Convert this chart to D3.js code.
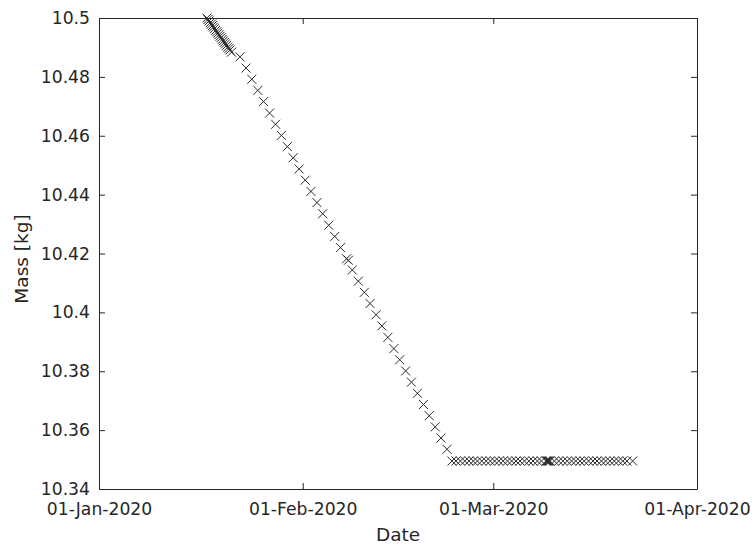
<!DOCTYPE html>
<html>
<head>
<meta charset="utf-8">
<script src="https://cdn.jsdelivr.net/npm/d3@7"></script>
<style>
  body { margin: 0; background: #fff; }
  svg { display: block; }
  text { font-family: "DejaVu Sans", sans-serif; fill: #262626; }
</style>
</head>
<body>
<svg id="chart" width="753" height="546"></svg>
<script>
// Early readings: logged every few hours while the mass starts to drop
const startTimes = [
  "2020-01-17T10:00", "2020-01-17T14:00", "2020-01-17T18:00", "2020-01-17T22:00",
  "2020-01-18T02:00", "2020-01-18T06:00", "2020-01-18T10:00", "2020-01-18T14:00",
  "2020-01-18T18:00", "2020-01-18T22:00", "2020-01-19T02:00", "2020-01-19T06:00",
  "2020-01-19T10:00", "2020-01-19T14:00", "2020-01-19T18:00", "2020-01-19T22:00",
  "2020-01-20T02:00", "2020-01-20T06:00", "2020-01-20T10:00", "2020-01-20T14:00",
  "2020-01-20T18:00", "2020-01-20T22:00", "2020-01-21T04:00"
];
const startMass = [
  10.5000, 10.4995, 10.4990, 10.4984, 10.4979, 10.4974, 10.4969, 10.4964,
  10.4958, 10.4953, 10.4948, 10.4943, 10.4938, 10.4933, 10.4927, 10.4922,
  10.4917, 10.4912, 10.4907, 10.4901, 10.4896, 10.4891, 10.4884
];

// Steady decline
const declineTimes = [
  "2020-01-22T11:00", "2020-01-23T09:00", "2020-01-24T06:00", "2020-01-25T04:00",
  "2020-01-26T01:00", "2020-01-26T23:00", "2020-01-27T21:00", "2020-01-28T18:00",
  "2020-01-29T16:00", "2020-01-30T13:00", "2020-01-31T11:00", "2020-02-01T09:00",
  "2020-02-02T06:00", "2020-02-03T04:00", "2020-02-04T01:00", "2020-02-04T23:00",
  "2020-02-05T21:00", "2020-02-06T18:00", "2020-02-07T16:00", "2020-02-07T23:00",
  "2020-02-08T13:00", "2020-02-09T11:00", "2020-02-10T09:00", "2020-02-11T06:00",
  "2020-02-12T04:00", "2020-02-13T01:00", "2020-02-13T23:00", "2020-02-14T21:00",
  "2020-02-15T18:00", "2020-02-16T16:00", "2020-02-17T13:00", "2020-02-18T11:00",
  "2020-02-19T09:00", "2020-02-20T06:00", "2020-02-21T04:00", "2020-02-22T01:00",
  "2020-02-22T23:00"
];
const declineMass = [
  10.4868, 10.4830, 10.4792, 10.4754, 10.4716, 10.4677, 10.4639, 10.4601,
  10.4563, 10.4525, 10.4487, 10.4449, 10.4411, 10.4373, 10.4335, 10.4296,
  10.4258, 10.4220, 10.4182, 10.4177, 10.4144, 10.4106, 10.4068, 10.4030,
  10.3992, 10.3954, 10.3915, 10.3877, 10.3839, 10.3801, 10.3763, 10.3725,
  10.3687, 10.3649, 10.3611, 10.3573, 10.3535
];

// Plateau once the mass has settled
const plateauTimes = [
  "2020-02-23T17:00", "2020-02-24T08:00", "2020-02-25T00:00", "2020-02-25T16:00",
  "2020-02-26T07:00", "2020-02-26T23:00", "2020-02-27T14:00", "2020-02-28T06:00",
  "2020-02-28T22:00", "2020-02-29T13:00", "2020-03-01T05:00", "2020-03-01T20:00",
  "2020-03-02T12:00", "2020-03-03T04:00", "2020-03-03T19:00", "2020-03-04T11:00",
  "2020-03-05T02:00", "2020-03-05T18:00", "2020-03-06T10:00", "2020-03-07T01:00",
  "2020-03-07T17:00", "2020-03-08T08:00", "2020-03-09T00:00", "2020-03-09T04:00",
  "2020-03-09T08:00", "2020-03-09T12:00", "2020-03-09T16:00", "2020-03-10T07:00",
  "2020-03-10T23:00", "2020-03-11T14:00", "2020-03-12T06:00", "2020-03-12T22:00",
  "2020-03-13T13:00", "2020-03-14T05:00", "2020-03-14T20:00", "2020-03-15T12:00",
  "2020-03-16T04:00", "2020-03-16T19:00", "2020-03-17T11:00", "2020-03-18T02:00",
  "2020-03-18T18:00", "2020-03-19T10:00", "2020-03-20T01:00", "2020-03-20T17:00",
  "2020-03-21T08:00", "2020-03-22T05:00"
];
const plateauMass = [
  10.3495, 10.3495, 10.3495, 10.3495, 10.3495, 10.3495, 10.3495, 10.3495,
  10.3495, 10.3495, 10.3495, 10.3495, 10.3495, 10.3495, 10.3495, 10.3495,
  10.3495, 10.3495, 10.3495, 10.3495, 10.3495, 10.3495, 10.3495, 10.3495,
  10.3495, 10.3495, 10.3495, 10.3495, 10.3495, 10.3495, 10.3495, 10.3495,
  10.3495, 10.3495, 10.3495, 10.3495, 10.3495, 10.3495, 10.3495, 10.3495,
  10.3495, 10.3495, 10.3495, 10.3495, 10.3495, 10.3495
];

// Axis ticks
const xTickDates = ["2020-01-01", "2020-02-01", "2020-03-01", "2020-04-01"];
const xTickLabels = ["01-Jan-2020", "01-Feb-2020", "01-Mar-2020", "01-Apr-2020"];
const yTickValues = [10.34, 10.36, 10.38, 10.40, 10.42, 10.44, 10.46, 10.48, 10.50];
const yTickLabels = ["10.34", "10.36", "10.38", "10.4", "10.42", "10.44", "10.46", "10.48", "10.5"];

const parseTime = d3.utcParse("%Y-%m-%dT%H:%M");
const parseDay = d3.utcParse("%Y-%m-%d");

const points = [];
[[startTimes, startMass], [declineTimes, declineMass], [plateauTimes, plateauMass]]
  .forEach(([times, masses]) => times.forEach((t, i) => points.push({ t: parseTime(t), m: masses[i] })));

const box = { left: 99, right: 697, top: 18, bottom: 489 };
const svg = d3.select("#chart");

const xTicks = xTickDates.map(parseDay);
const x = d3.scaleUtc().domain([xTicks[0], xTicks[xTicks.length - 1]]).range([box.left, box.right]);
const y = d3.scaleLinear().domain([10.34, 10.5]).range([box.bottom, box.top]);

const axisColor = "#262626";
const tickLen = 6;
const tickFont = 17.2;

function styleAxis(g) {
  g.selectAll("path.domain").attr("stroke", axisColor).attr("stroke-width", 1);
  g.selectAll(".tick line").attr("stroke", axisColor).attr("stroke-width", 1);
  g.selectAll(".tick text")
    .attr("font-family", "DejaVu Sans, sans-serif")
    .attr("font-size", tickFont)
    .attr("fill", axisColor);
}

// Bottom axis with date labels
svg.append("g")
  .attr("transform", `translate(0,${box.bottom})`)
  .call(d3.axisBottom(x).tickValues(xTicks)
    .tickFormat((d, i) => xTickLabels[i])
    .tickSizeInner(-tickLen).tickSizeOuter(0).tickPadding(14))
  .call(styleAxis);

// Top axis (ticks only)
svg.append("g")
  .attr("transform", `translate(0,${box.top})`)
  .call(d3.axisTop(x).tickValues(xTicks).tickFormat("")
    .tickSizeInner(-tickLen).tickSizeOuter(0))
  .call(styleAxis);

// Left axis with mass labels
svg.append("g")
  .attr("transform", `translate(${box.left},0)`)
  .call(d3.axisLeft(y).tickValues(yTickValues)
    .tickFormat((d, i) => yTickLabels[i])
    .tickSizeInner(-tickLen).tickSizeOuter(0).tickPadding(9))
  .call(styleAxis);

// Right axis (ticks only)
svg.append("g")
  .attr("transform", `translate(${box.right},0)`)
  .call(d3.axisRight(y).tickValues(yTickValues).tickFormat("")
    .tickSizeInner(-tickLen).tickSizeOuter(0))
  .call(styleAxis);

// Cross markers
const r = 4.5;
svg.append("g")
  .attr("stroke", "#2a2a2a")
  .attr("stroke-width", 1)
  .attr("fill", "none")
  .selectAll("path")
  .data(points)
  .join("path")
  .attr("d", d => {
    const cx = x(d.t), cy = y(d.m);
    return `M${cx - r},${cy - r}L${cx + r},${cy + r}M${cx - r},${cy + r}L${cx + r},${cy - r}`;
  });

// Axis titles
svg.append("text")
  .attr("x", (box.left + box.right) / 2)
  .attr("y", 541)
  .attr("text-anchor", "middle")
  .attr("font-size", 18.5)
  .text("Date");

svg.append("text")
  .attr("transform", `translate(28,259) rotate(-90)`)
  .attr("text-anchor", "middle")
  .attr("font-size", 18.5)
  .text("Mass [kg]");
</script>
</body>
</html>
